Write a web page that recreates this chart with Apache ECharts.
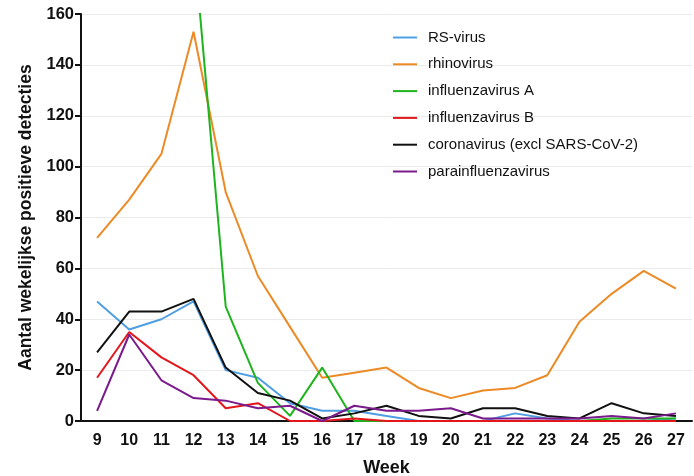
<!DOCTYPE html>
<html>
<head>
<meta charset="utf-8">
<script src="https://cdn.jsdelivr.net/npm/echarts@6/dist/echarts.min.js"></script>
<style>
 html, body { margin: 0; padding: 0; background: #fff; }
 #chart { width: 694px; height: 476px; }
</style>
</head>
<body>
<div id="chart"></div>
<script>
 // weken en aantallen per virus
 var weeks = ['9','10','11','12','13','14','15','16','17','18','19','20','21','22','23','24','25','26','27'];
 var rsVirus     = [47, 36, 40, 47, 20, 17, 7, 4, 4, 2, 0, 0, 0, 3, 1, 0, 0, 0, 1];
 var rhinovirus  = [72, 87, 105, 153, 90, 57, 37, 17, 19, 21, 13, 9, 12, 13, 18, 39, 50, 59, 52];
 var influenzaA  = [null, null, null, 189, 45, 15, 2, 21, 0, 0, 0, 0, 0, 0, 0, 0, 1, 1, 1];
 var influenzaB  = [17, 35, 25, 18, 5, 7, 0, 0, 1, 0, 0, 0, 0, 0, 0, 0, 0, 0, 0];
 var coronavirus = [27, 43, 43, 48, 21, 11, 8, 1, 3, 6, 2, 1, 5, 5, 2, 1, 7, 3, 2];
 var parainfluenza = [4, 34, 16, 9, 8, 5, 6, 0, 6, 4, 4, 5, 1, 1, 1, 1, 2, 1, 3];
 var yTicks = [0, 20, 40, 60, 80, 100, 120, 140, 160];

 var seriesList = [
     {name: 'RS-virus', data: rsVirus, color: '#4f9ee3'},
     {name: 'rhinovirus', data: rhinovirus, color: '#ec8a25'},
     {name: 'influenzavirus A', data: influenzaA, color: '#1eb41e'},
     {name: 'influenzavirus B', data: influenzaB, color: '#e3161b'},
     {name: 'coronavirus (excl SARS-CoV-2)', data: coronavirus, color: '#111111'},
     {name: 'parainfluenzavirus', data: parainfluenza, color: '#7a1a8c'}
 ];

 var chart = echarts.init(document.getElementById('chart'));
 chart.setOption({
     animation: false,
     textStyle: { fontFamily: 'Liberation Sans, Arial, sans-serif' },
     grid: { left: 81, right: 2, top: 14, bottom: 55, containLabel: false, outerBoundsMode: 'none' },
     legend: {
         orient: 'vertical',
         left: 388,
         top: 25,
         itemWidth: 24,
         itemHeight: 2,
         itemGap: 11.8,
         icon: 'rect',
         textStyle: { fontSize: 15, color: '#111', padding: [0, 0, 0, 6] },
         data: seriesList.map(function (s) { return s.name; })
     },
     xAxis: {
         type: 'category',
         data: weeks,
         boundaryGap: true,
         name: 'Week',
         nameLocation: 'middle',
         nameGap: 38,
         nameTextStyle: { fontSize: 18, fontWeight: 'bold', color: '#111' },
         axisLine: { lineStyle: { color: '#111', width: 2 } },
         axisTick: { alignWithLabel: true, length: 6, lineStyle: { color: '#111', width: 2 } },
         axisLabel: { fontSize: 16, fontWeight: 'bold', color: '#111', margin: 12, interval: 0 }
     },
     yAxis: {
         type: 'value',
         min: yTicks[0],
         max: yTicks[yTicks.length - 1],
         interval: 20,
         name: 'Aantal wekelijkse positieve detecties',
         nameLocation: 'middle',
         nameGap: 43,
         nameTextStyle: { fontSize: 17.5, fontWeight: 'bold', color: '#111' },
         axisLine: { show: true, lineStyle: { color: '#111', width: 2 } },
         axisTick: { show: true, length: 6, lineStyle: { color: '#111', width: 2 } },
         axisLabel: { fontSize: 16.5, fontWeight: 'bold', color: '#111', margin: 7 },
         splitLine: { show: true, lineStyle: { color: '#ebebeb', width: 1 } }
     },
     series: seriesList.map(function (s) {
         return {
             name: s.name,
             type: 'line',
             data: s.data,
             symbol: 'none',
             clip: true,
             connectNulls: false,
             color: s.color,
             lineStyle: { color: s.color, width: 2 }
         };
     })
 });
</script>
</body>
</html>
